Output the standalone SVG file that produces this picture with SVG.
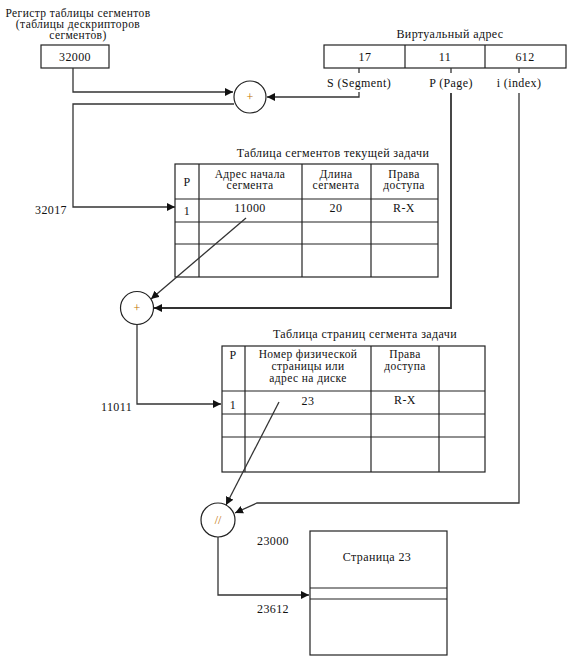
<svg xmlns="http://www.w3.org/2000/svg" width="571" height="665" viewBox="0 0 571 665" font-family="Times New Roman, Liberation Serif, Tinos, DejaVu Serif, serif" font-size="12">
<defs>
<marker id="ah" viewBox="0 0 10 10" refX="10" refY="5" markerWidth="8" markerHeight="8" markerUnits="userSpaceOnUse" orient="auto">
<path d="M0,0 L10,5 L0,10 z" fill="#111"/>
</marker>
<style>
text{font-family:Times New Roman, Liberation Serif, Tinos, DejaVu Serif, serif;font-size:12px;fill:#111;letter-spacing:0.4px}
.c{text-anchor:middle}
.s{font-size:11.5px}
.box{fill:#fff;stroke:#222;stroke-width:1.2}
.ln{fill:none;stroke:#333;stroke-width:1.3}
.tl{stroke:#222;stroke-width:1.2}
.op{fill:#c07000;letter-spacing:0}
</style>
</defs>
<rect width="571" height="665" fill="#fff"/>

<g id="register">
<text class="c s" x="78" y="17">Регистр таблицы сегментов</text>
<text class="c s" x="78" y="28">(таблицы дескрипторов</text>
<text class="c s" x="78" y="39">сегментов)</text>
<rect class="box" x="41" y="45" width="68" height="23"/>
<text class="c" x="75" y="61">32000</text>
</g>

<g id="virtual-address">
<text class="c" x="450" y="38">Виртуальный адрес</text>
<rect class="box" x="324" y="45" width="242" height="23"/>
<line class="tl" x1="405" y1="45" x2="405" y2="68"/>
<line class="tl" x1="485" y1="45" x2="485" y2="68"/>
<text class="c" x="365" y="61">17</text>
<text class="c" x="445" y="61">11</text>
<text class="c" x="525" y="61">612</text>
<text class="c" x="359" y="87">S (Segment)</text>
<text class="c" x="451" y="87">P (Page)</text>
<text class="c" x="519" y="87">i (index)</text>
</g>

<g id="adder1">
<circle class="box" cx="250" cy="97" r="16"/>
<text class="c op" x="250" y="101">+</text>
</g>

<g id="segment-table">
<text class="c" x="333" y="157">Таблица сегментов текущей задачи</text>
<rect class="box" x="175" y="164" width="263" height="113"/>
<line class="tl" x1="175" y1="199" x2="438" y2="199"/>
<line class="tl" x1="175" y1="222" x2="438" y2="222"/>
<line class="tl" x1="175" y1="244" x2="438" y2="244"/>
<line class="tl" x1="199" y1="164" x2="199" y2="277"/>
<line class="tl" x1="302" y1="164" x2="302" y2="277"/>
<line class="tl" x1="371" y1="164" x2="371" y2="277"/>
<text class="c" x="187" y="186">P</text>
<text class="c s" x="250" y="178">Адрес начала</text>
<text class="c s" x="250" y="189">сегмента</text>
<text class="c s" x="336" y="178">Длина</text>
<text class="c s" x="336" y="189">сегмента</text>
<text class="c s" x="404" y="178">Права</text>
<text class="c s" x="404" y="189">доступа</text>
<text class="c" x="187" y="215">1</text>
<text class="c" x="250" y="212">11000</text>
<text class="c" x="336" y="212">20</text>
<text class="c" x="404" y="212">R-X</text>
</g>

<g id="adder2">
<circle class="box" cx="137" cy="308" r="16.5"/>
<text class="c op" x="137" y="312">+</text>
</g>

<g id="page-table">
<text class="c" x="365" y="338">Таблица страниц сегмента задачи</text>
<rect class="box" x="222" y="346" width="263" height="126"/>
<line class="tl" x1="222" y1="391" x2="485" y2="391"/>
<line class="tl" x1="222" y1="414" x2="485" y2="414"/>
<line class="tl" x1="222" y1="437" x2="485" y2="437"/>
<line class="tl" x1="245" y1="346" x2="245" y2="472"/>
<line class="tl" x1="371" y1="346" x2="371" y2="472"/>
<line class="tl" x1="439" y1="346" x2="439" y2="472"/>
<text class="c" x="233" y="359">P</text>
<text class="c s" x="308" y="358">Номер физической</text>
<text class="c s" x="308" y="370">страницы или</text>
<text class="c s" x="308" y="382">адрес на диске</text>
<text class="c s" x="405" y="358">Права</text>
<text class="c s" x="405" y="370">доступа</text>
<text class="c" x="233" y="409">1</text>
<text class="c" x="308" y="405">23</text>
<text class="c" x="405" y="404">R-X</text>
</g>

<g id="concat">
<circle class="box" cx="218" cy="520" r="17"/>
<text class="c op" x="218" y="524">//</text>
</g>

<g id="page">
<rect class="box" x="310" y="531" width="137" height="124"/>
<line class="tl" x1="310" y1="588" x2="447" y2="588"/>
<line class="tl" x1="310" y1="599" x2="447" y2="599"/>
<text class="c" x="377" y="561">Страница 23</text>
</g>

<g id="labels">
<text x="35" y="214">32017</text>
<text x="101" y="411">11011</text>
<text x="257" y="545">23000</text>
<text x="257" y="613">23612</text>
</g>

<g id="connectors">
<polyline class="ln" points="73,68 73,92 233,92" marker-end="url(#ah)"/>
<line class="ln" x1="359" y1="68" x2="359" y2="73"/>
<polyline class="ln" points="359,92 359,97 267,97" marker-end="url(#ah)"/>
<polyline class="ln" points="234,104 73,104 73,207 175,207" marker-end="url(#ah)"/>
<line class="ln" x1="451" y1="68" x2="451" y2="73"/>
<polyline class="ln" points="451,93 451,308 154,308" marker-end="url(#ah)" style="stroke-width:1.8"/>
<line class="ln" x1="246" y1="218" x2="151" y2="299" marker-end="url(#ah)"/>
<polyline class="ln" points="137,325 137,404 221,404" marker-end="url(#ah)"/>
<line class="ln" x1="519" y1="68" x2="519" y2="73"/>
<polyline class="ln" points="519,93 519,503 257,503 235,513" marker-end="url(#ah)"/>
<line class="ln" x1="279" y1="402" x2="226" y2="505" marker-end="url(#ah)"/>
<polyline class="ln" points="218,537 218,595 309,595" marker-end="url(#ah)"/>
</g>
</svg>
